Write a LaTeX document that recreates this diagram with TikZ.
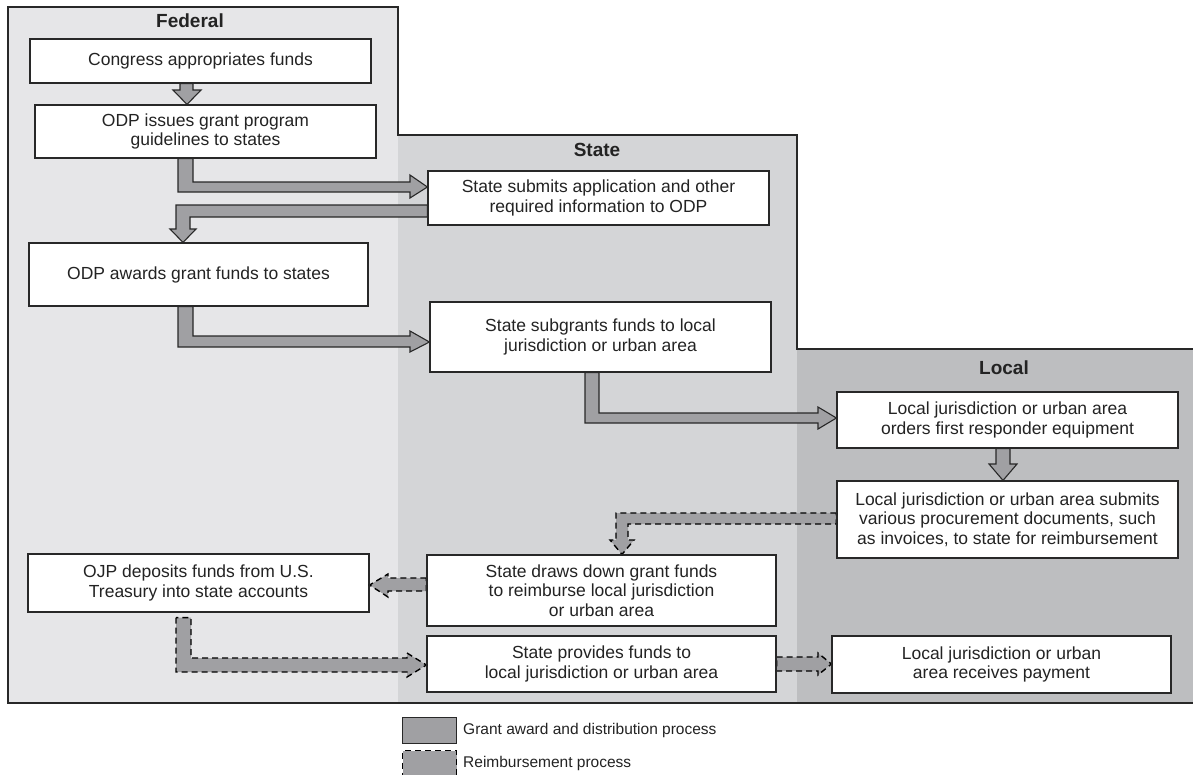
\documentclass[tikz,border=0pt]{standalone}
\usepackage{fontspec}
\setmainfont{Liberation Sans}
\usetikzlibrary{calc}
\definecolor{fedbg}{RGB}{230,230,232}
\definecolor{statebg}{RGB}{212,213,215}
\definecolor{localbg}{RGB}{189,190,192}
\definecolor{arrowgray}{RGB}{160,160,163}
\definecolor{edge}{RGB}{40,40,40}
\definecolor{txt}{RGB}{35,35,35}
\begin{document}
\begin{tikzpicture}[x=1pt,y=-1pt,
  box/.style={draw=edge, line width=1.2pt, fill=white, align=center, inner sep=0pt, text=txt,
              font=\fontsize{17.5}{19.5}\selectfont},
  paneltitle/.style={font=\fontsize{19}{22}\selectfont\bfseries, text=txt},
  fat/.style={fill=arrowgray, draw=edge, line width=1.1pt, line join=miter},
  fatdash/.style={fat, draw=black, line width=1.4pt, dash pattern=on 6pt off 4pt},
  legtext/.style={font=\fontsize{15.5}{18}\selectfont, anchor=west, inner sep=0pt, text=txt}]
\useasboundingbox (0,0) rectangle (1193,774);
\fill[white] (0,0) rectangle (1193,774);
% panels
\fill[fedbg] (8,7) rectangle (398,703);
\fill[statebg] (398,135) rectangle (797,703);
\fill[localbg] (797,349) rectangle (1193,703);
\draw[edge, line width=1.4pt] (1193,703) -- (8,703) -- (8,7) -- (398,7) -- (398,135) -- (797,135) -- (797,349) -- (1193,349);
% titles
\node[paneltitle] (tfed) at (190,21) {Federal};
\node[paneltitle] (tstate) at (597,150) {State};
\node[paneltitle] (tlocal) at (1004,368) {Local};
% boxes
\path
 (200.5,61)   node[box, minimum width=341pt, minimum height=44pt] (b1) {Congress appropriates funds}
 (205.5,131.5) node[box, minimum width=341pt, minimum height=53pt] (b2) {ODP issues grant program\\guidelines to states}
 (198.5,274.5) node[box, minimum width=339pt, minimum height=63pt] (b3) {ODP awards grant funds to states}
 (598.5,198)  node[box, minimum width=341pt, minimum height=54pt] (b4) {State submits application and other\\required information to ODP}
 (600.5,337)  node[box, minimum width=341pt, minimum height=70pt] (b5) {State subgrants funds to local\\jurisdiction or urban area}
 (1007.5,420) node[box, minimum width=341pt, minimum height=56pt] (b6) {Local jurisdiction or urban area\\orders first responder equipment}
 (1007.5,519.5) node[box, minimum width=341pt, minimum height=77pt] (b7) {Local jurisdiction or urban area submits\\various procurement documents, such\\as invoices, to state for reimbursement}
 (601.5,590.5) node[box, minimum width=349pt, minimum height=71pt] (b8) {State draws down grant funds\\to reimburse local jurisdiction\\or urban area}
 (601.5,664)  node[box, minimum width=349pt, minimum height=56pt] (b9) {State provides funds to\\local jurisdiction or urban area}
 (1001.5,664.5) node[box, minimum width=339pt, minimum height=57pt] (b10) {Local jurisdiction or urban\\area receives payment}
 (198.5,583)  node[box, minimum width=341pt, minimum height=58pt] (b11) {OJP deposits funds from U.S.\\Treasury into state accounts};
\coordinate (a9s) at ([yshift=-5pt]b11.south);
% solid arrows
\draw[fat] (180,0 |- b1.south) -- (180,90) -- (173,90) -- (187,0 |- b2.north) -- (201,90) -- (193,90) -- (193,0 |- b1.south) -- cycle;
\draw[fat] (178,0 |- b2.south) -- (178,192) -- (410,192) -- (410,198) -- (b4.west |- 0,187) -- (410,175) -- (410,182) -- (193,182) -- (193,0 |- b2.south) -- cycle;
\draw[fat] (b4.west |- 0,205) -- (176,205) -- (176,229) -- (170,229) -- (183,0 |- b3.north) -- (196,229) -- (190,229) -- (190,217) -- (b4.west |- 0,217) -- cycle;
\draw[fat] (178,0 |- b3.south) -- (178,347) -- (410,347) -- (410,352) -- (b5.west |- 0,342) -- (410,331) -- (410,336) -- (193,336) -- (193,0 |- b3.south) -- cycle;
\draw[fat] (585,0 |- b5.south) -- (585,423) -- (818,423) -- (818,429) -- (b6.west |- 0,418) -- (818,407) -- (818,413) -- (599,413) -- (599,0 |- b5.south) -- cycle;
\draw[fat] (996,0 |- b6.south) -- (996,464) -- (989,464) -- (1003,0 |- b7.north) -- (1017,464) -- (1010,464) -- (1010,0 |- b6.south) -- cycle;
% dashed arrows
\draw[fatdash] (b7.west |- 0,513) -- (616,513) -- (616,540) -- (610,540) -- (622,0 |- b8.north) -- (634,540) -- (628,540) -- (628,524) -- (b7.west |- 0,524) -- cycle;
\draw[fatdash] (b8.west |- 0,578) -- (388,578) -- (388,574) -- (b11.east |- 0,585) -- (388,597) -- (388,591) -- (b8.west |- 0,591) -- cycle;
\draw[fatdash] (176,0 |- a9s) -- (176,672) -- (407,672) -- (407,677) -- (b9.west |- 0,665) -- (407,653) -- (407,658) -- (191,658) -- (191,0 |- a9s) -- cycle;
\draw[fatdash] (b9.east |- 0,657) -- (818,657) -- (818,653) -- (b10.west |- 0,664) -- (818,675) -- (818,671) -- (b9.east |- 0,671) -- cycle;
% redraw box borders on top of the arrow ends
\foreach \n in {b1,b2,b3,b4,b5,b6,b7,b8,b9,b10,b11}{
  \draw[edge, line width=1.2pt] (\n.north west) rectangle (\n.south east);
}
% legend
\node[fat, minimum width=54pt, minimum height=26pt, inner sep=0pt, anchor=north west] (leg1) at (402,717) {};
\node[legtext] (leg1t) at (463,730) {Grant award and distribution process};
\node[fatdash, minimum width=54pt, minimum height=30pt, inner sep=0pt, anchor=north west] (leg2) at (402,750) {};
\node[legtext] (leg2t) at (463,763) {Reimbursement process};
\end{tikzpicture}
\end{document}
